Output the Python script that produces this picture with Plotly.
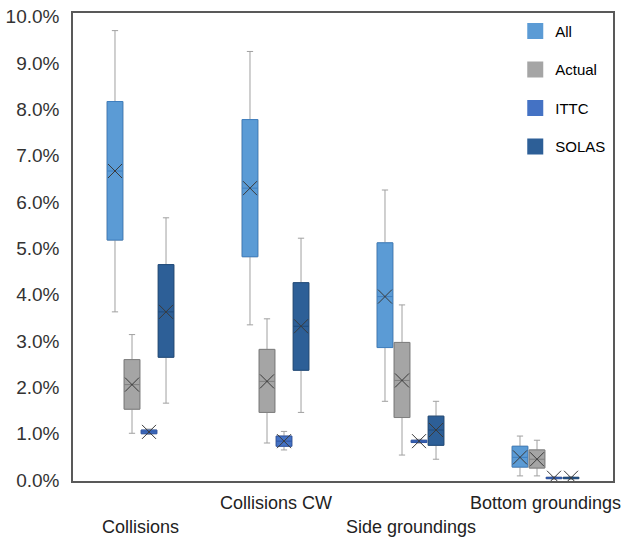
import plotly.graph_objects as go

categories = ["Collisions", "Collisions CW", "Side groundings", "Bottom groundings"]
series = ["All", "Actual", "ITTC", "SOLAS"]

# values in percent, per series: one value per category
lower = {
    "All":    [3.63, 3.35, 1.70, 0.09],
    "Actual": [1.01, 0.80, 0.54, 0.09],
    "ITTC":   [0.99, 0.65, 0.80, 0.02],
    "SOLAS":  [1.66, 1.46, 0.45, 0.02],
}
q1 = {
    "All":    [5.18, 4.82, 2.86, 0.28],
    "Actual": [1.53, 1.46, 1.35, 0.26],
    "ITTC":   [1.00, 0.73, 0.81, 0.03],
    "SOLAS":  [2.65, 2.37, 0.75, 0.03],
}
median = {
    "All":    [6.67, 6.30, 3.96, 0.49],
    "Actual": [2.06, 2.13, 2.15, 0.45],
    "ITTC":   [1.04, 0.84, 0.84, 0.05],
    "SOLAS":  [3.63, 3.32, 1.08, 0.05],
}
mean = {
    "All":    [6.67, 6.30, 3.96, 0.49],
    "Actual": [2.06, 2.13, 2.15, 0.45],
    "ITTC":   [1.04, 0.84, 0.84, 0.05],
    "SOLAS":  [3.63, 3.32, 1.08, 0.05],
}
q3 = {
    "All":    [8.17, 7.78, 5.12, 0.73],
    "Actual": [2.60, 2.82, 2.97, 0.65],
    "ITTC":   [1.08, 0.95, 0.86, 0.06],
    "SOLAS":  [4.65, 4.26, 1.38, 0.06],
}
upper = {
    "All":    [9.70, 9.25, 6.26, 0.95],
    "Actual": [3.14, 3.48, 3.78, 0.86],
    "ITTC":   [1.10, 1.05, 0.88, 0.07],
    "SOLAS":  [5.66, 5.22, 1.70, 0.07],
}
y_ticks = [0, 1, 2, 3, 4, 5, 6, 7, 8, 9, 10]

fill_colors = {"All": "#5b9bd5", "Actual": "#a5a5a5", "ITTC": "#4472c4", "SOLAS": "#2d5f97"}
edge_colors = {"All": "#3f7fbf", "Actual": "#7f7f7f", "ITTC": "#2f55a4", "SOLAS": "#1f4a7a"}
whisker_color = "#a0a0a0"

pitch = 0.126
bw = 0.116
fig = go.Figure()
n = len(series)
for k, s in enumerate(series):
    xs = [i + (k - (n - 1) / 2) * pitch for i in range(len(categories))]
    # whiskers
    fig.add_trace(go.Box(
        x=xs, q1=q1[s], median=median[s], q3=q3[s],
        lowerfence=lower[s], upperfence=upper[s],
        width=bw, fillcolor=fill_colors[s],
        line=dict(color=whisker_color, width=1), whiskerwidth=0.4,
        showlegend=False, hoverinfo="skip", boxpoints=False,
    ))
    # body
    fig.add_trace(go.Box(
        x=xs, q1=q1[s], median=median[s], q3=q3[s],
        lowerfence=q1[s], upperfence=q3[s],
        width=bw, fillcolor=fill_colors[s],
        line=dict(color=edge_colors[s], width=1), whiskerwidth=0,
        showlegend=False, boxpoints=False, name=s,
    ))
    # mean markers
    fig.add_trace(go.Scatter(
        x=xs, y=mean[s], mode="markers",
        marker=dict(symbol="x-thin", size=14,
                    line=dict(color="#3a3a3a", width=1)),
        showlegend=False, hoverinfo="skip",
    ))

for s in series:
    fig.add_trace(go.Scatter(
        x=[None], y=[None], mode="markers", name=s, legendgroup=s,
        marker=dict(symbol="square", size=16, color=fill_colors[s],
                    line=dict(width=0)),
    ))

for i, c in enumerate(categories):
    shift = -46 if i % 2 == 0 else -22
    fig.add_annotation(
        x=i, y=0, xref="x", yref="paper", text=c, showarrow=False,
        yanchor="middle", yshift=shift,
        font=dict(family="Liberation Sans, Arial, sans-serif", size=18, color="#222222"),
    )

fig.update_layout(
    width=626, height=540,
    margin=dict(l=73, r=13, t=13, b=59, autoexpand=False),
    paper_bgcolor="white", plot_bgcolor="white",
    showlegend=True,
    legend=dict(
        x=0.819, y=0.996, xanchor="left", yanchor="top",
        font=dict(family="Liberation Sans, Arial, sans-serif", size=15, color="#000000"),
        tracegroupgap=16, bgcolor="rgba(0,0,0,0)",
    ),
    font=dict(family="Liberation Sans, Arial, sans-serif"),
)
fig.update_xaxes(
    range=[-0.5, 3.5], showticklabels=False, ticks="", showgrid=False,
    zeroline=False, showline=True, linecolor="#595959", linewidth=1.5, mirror=True,
    automargin=False,
)
fig.update_yaxes(
    range=[-0.02, 10.08], tickvals=y_ticks,
    ticktext=[f"{v:.1f}%" for v in y_ticks],
    showgrid=False, zeroline=False, showline=True, linecolor="#595959",
    linewidth=1.5, mirror=True, ticks="", ticklabelstandoff=8, automargin=False,
    tickfont=dict(family="Liberation Sans, Arial, sans-serif", size=19, color="#333333"),
)

fig.write_html("out.html", config={"displayModeBar": False},
               post_script="document.body.style.margin='0';")
